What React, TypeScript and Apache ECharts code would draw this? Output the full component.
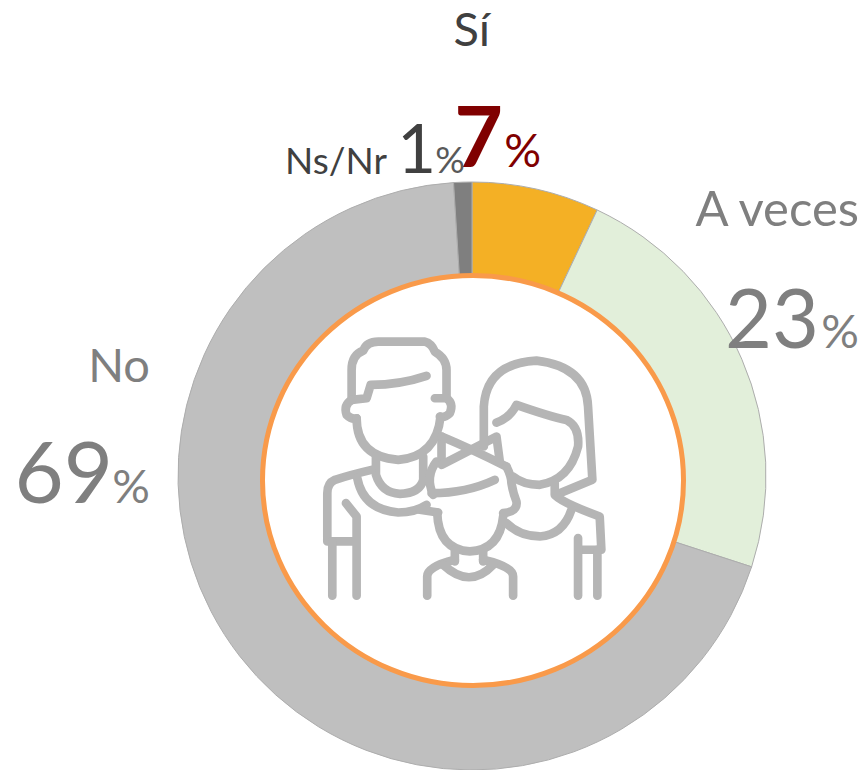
import React, { useEffect, useRef } from "react";
import * as echarts from "echarts";

const categories = ["Sí", "A veces", "No", "Ns/Nr"];
const values = [7, 23, 69, 1];
const sliceColors = ["#f4b025", "#e2efda", "#bfbfbf", "#7f7f7f"];

const iconLines = [
  "M155 240 L155 150 Q155 105 190 92 Q200 65 235 65 L375 65 Q395 70 405 95 Q440 115 440 150 L440 235",
  "M155 240 L200 235 L212 195 Q300 195 380 168",
  "M405 235 L440 235 Q462 250 450 280 Q435 295 420 290",
  "M155 240 Q130 255 140 285 Q155 300 170 295",
  "M170 295 Q170 410 295 420 Q410 410 422 290",
  "M228 410 L228 465 Q245 520 300 522 Q360 520 370 480 L370 410",
  "M215 450 Q150 465 105 480 Q82 490 82 520 L82 665 L160 665",
  "M138 550 L170 590 L170 828",
  "M97 665 L97 828",
  "M172 475 Q190 570 295 578 Q345 578 380 555",
  "M425 350 L425 430",
  "M425 350 Q520 390 620 440",
  "M400 525 Q375 470 410 425",
  "M620 440 Q635 470 635 490 Q640 520 650 545 Q655 575 610 580",
  "M395 520 Q500 520 585 480",
  "M360 570 L415 578",
  "M412 578 Q415 690 510 695 Q600 690 610 590",
  "M465 690 L465 725",
  "M550 690 L550 725",
  "M465 720 Q382 740 382 770 L382 828",
  "M550 720 Q640 740 640 770 L640 828",
  "M430 735 Q510 810 580 735",
  "M425 435 L590 350 L600 425",
  "M552 380 L552 260 Q560 130 710 122 Q860 140 865 260 L878 480 L780 520",
  "M590 308 Q630 295 650 255 Q750 290 800 300 Q840 320 835 380 Q810 480 720 495 Q670 495 640 470",
  "M765 490 L765 525 Q790 550 900 590 L905 690 L840 690",
  "M620 610 Q660 650 720 650 Q790 645 815 570",
  "M835 655 L835 828",
  "M893 690 L893 828",
];

const FONT = "Lato, 'Open Sans', sans-serif";
const topFor = (baseline: number, size: number) => baseline - 0.885 * size;

function valueLabel(
  i: number,
  right: number,
  baseline: number,
  color: string,
  numSize: number,
  pctSize: number,
  pctColor: string,
  gap: number,
  weight: number | string = 400
) {
  return [
    {
      type: "text",
      z: 20,
      style: {
        x: right,
        y: topFor(baseline, pctSize),
        text: "%",
        align: "right",
        verticalAlign: "top",
        fill: pctColor,
        font: `${pctSize}px ${FONT}`,
      },
    },
    {
      type: "text",
      z: 20,
      style: {
        x: right - gap,
        y: topFor(baseline, numSize),
        text: String(values[i]),
        align: "right",
        verticalAlign: "top",
        fill: color,
        font: `${weight} ${numSize}px ${FONT}`,
      },
    },
  ];
}

function nameLabel(i: number, right: number, baseline: number, color: string, size: number) {
  return {
    type: "text",
    z: 20,
    style: {
      x: right,
      y: topFor(baseline, size),
      text: categories[i],
      align: "right",
      verticalAlign: "top",
      fill: color,
      font: `${size}px ${FONT}`,
    },
  };
}

export default function App() {
  const ref = useRef<HTMLDivElement>(null);
  useEffect(() => {
    if (!ref.current) return;
    iconLines.forEach((d, i) => {
      echarts.graphic.registerShape("famLine" + i, echarts.graphic.extendPath(d, {}));
    });
    const chart = echarts.init(ref.current, undefined, { renderer: "svg" });
    chart.setOption({
      animation: false,
      backgroundColor: "#ffffff",
      series: [
        {
          type: "pie",
          center: [472, 476],
          radius: [190, 294],
          startAngle: 90,
          clockwise: true,
          silent: true,
          label: { show: false },
          labelLine: { show: false },
          itemStyle: { borderColor: "#adadad", borderWidth: 1 },
          data: categories.map((name, i) => ({
            name,
            value: values[i],
            itemStyle: { color: sliceColors[i] },
          })),
        },
      ],
      graphic: [
        {
          type: "ellipse",
          shape: { cx: 473, cy: 480.5, rx: 210.5, ry: 205 },
          style: { fill: "#ffffff", stroke: "#f99a4a", lineWidth: 5 },
          z: 10,
        },
        ...iconLines.map((_, i) => ({
          type: "famLine" + i,
          x: 300,
          y: 320,
          scaleX: 1 / 3,
          scaleY: 1 / 3,
          z: 11,
          style: {
            fill: "none",
            stroke: "#b5b5b5",
            lineWidth: 26,
            lineCap: "round",
            lineJoin: "round",
          },
        })),
        nameLabel(0, 490, 46, "#404040", 47),
        ...valueLabel(0, 541, 167, "#800000", 84, 46, "#800000", 38, 700),
        nameLabel(1, 859, 226, "#7f7f7f", 49),
        ...valueLabel(1, 859, 348, "#7f7f7f", 81, 47, "#7f7f7f", 40),
        nameLabel(2, 150, 382, "#7f7f7f", 47),
        ...valueLabel(2, 150, 503, "#7f7f7f", 85, 47, "#7f7f7f", 37),
        nameLabel(3, 387, 174, "#404040", 37),
        ...valueLabel(3, 465, 173, "#404040", 67, 37, "#595959", 29),
      ],
    });
    return () => chart.dispose();
  }, []);
  return (
    <div
      ref={ref}
      style={{ position: "absolute", left: 0, top: 0, width: 866, height: 770 }}
    />
  );
}
